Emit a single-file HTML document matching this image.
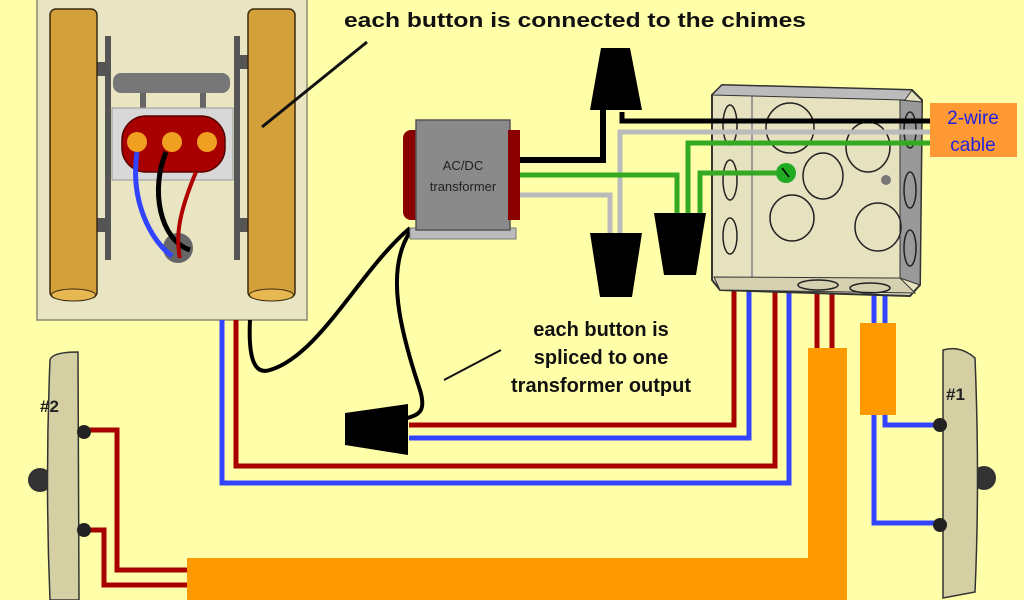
<!DOCTYPE html>
<html><head><meta charset="utf-8"><style>
html,body{margin:0;padding:0;background:#ffffaa;}
svg{display:block}
text{font-family:"Liberation Sans",Arial,sans-serif;}
</style></head><body>
<svg width="1024" height="600" viewBox="0 0 1024 600" xmlns="http://www.w3.org/2000/svg">
<rect width="1024" height="600" fill="#ffffaa"/>

<!-- chime box -->
<rect x="37" y="-2" width="270" height="322" fill="#e9e5c3" stroke="#8a8a70" stroke-width="1.5"/>
<rect x="105" y="36" width="6" height="224" fill="#555"/>
<rect x="234" y="36" width="6" height="224" fill="#555"/>
<rect x="97" y="62" width="12" height="14" fill="#555"/>
<rect x="97" y="218" width="12" height="14" fill="#555"/>
<rect x="236" y="55" width="12" height="14" fill="#555"/>
<rect x="236" y="218" width="12" height="14" fill="#555"/>
<rect x="113" y="73" width="117" height="20" rx="8" fill="#777"/>
<rect x="140" y="93" width="6" height="15" fill="#666"/><rect x="200" y="93" width="6" height="15" fill="#666"/>
<rect x="112" y="108" width="121" height="72" fill="#d8d8d8" stroke="#999"/>
<rect x="122" y="116" width="103" height="56" rx="24" fill="#a80000" stroke="#500" stroke-width="1.5"/>
<circle cx="137" cy="142" r="10" fill="#f0a020"/><circle cx="172" cy="142" r="10" fill="#f0a020"/><circle cx="207" cy="142" r="10" fill="#f0a020"/>
<circle cx="178" cy="248" r="15" fill="#666"/>
<path d="M137 152 C130 200 150 240 172 256" stroke="#3344ff" stroke-width="5" fill="none"/>
<path d="M166 152 C150 190 160 240 190 250" stroke="#000" stroke-width="5" fill="none"/>
<path d="M196 172 C180 210 175 235 180 258" stroke="#b00000" stroke-width="4" fill="none"/>
<!-- tubes -->
<rect x="50" y="9" width="47" height="289" rx="6" fill="#d4a03a" stroke="#3a2a10" stroke-width="1.5"/>
<ellipse cx="73.5" cy="295" rx="22" ry="6" fill="#e8b850" stroke="#3a2a10"/>
<rect x="248" y="9" width="47" height="289" rx="6" fill="#d4a03a" stroke="#3a2a10" stroke-width="1.5"/>
<ellipse cx="271.5" cy="295" rx="22" ry="6" fill="#e8b850" stroke="#3a2a10"/>

<!-- top text + arrow -->
<text x="344" y="27" font-size="20" font-weight="bold" fill="#111" textLength="462" lengthAdjust="spacingAndGlyphs">each button is connected to the chimes</text>
<line x1="367" y1="42" x2="262" y2="127" stroke="#111" stroke-width="3"/>

<!-- middle text -->
<g font-size="20" font-weight="bold" fill="#111" text-anchor="middle">
<text x="601" y="336">each button is</text>
<text x="601" y="364">spliced to one</text>
<text x="601" y="392">transformer output</text>
</g>
<line x1="501" y1="350" x2="444" y2="380" stroke="#111" stroke-width="2"/>

<!-- wires to chime -->
<path d="M222 320 V483 H789 V267 H885 V323" stroke="#3344ff" stroke-width="5" fill="none"/>
<path d="M236 320 V466 H775 V257 H832 V350" stroke="#a80000" stroke-width="5" fill="none"/>
<path d="M409 425 H734 V227 H817 V350" stroke="#a80000" stroke-width="5" fill="none"/>
<path d="M409 438 H749 V243 H874 V323" stroke="#3344ff" stroke-width="5" fill="none"/>
<path d="M250 320 C248 360 255 375 270 370 C320 355 360 270 410 228" stroke="#000" stroke-width="4" fill="none"/>
<path d="M410 232 C385 270 400 330 420 390 C426 410 420 415 407 418" stroke="#000" stroke-width="4" fill="none"/>
<polygon points="345,413 408,404 408,455 345,445" fill="#000"/>

<!-- junction box -->
<polygon points="712,95 722,85 912,90 922,100 920,285 910,296 720,290 712,280" fill="#e6e2c0" stroke="#333" stroke-width="2"/>
<polygon points="900,100 922,102 920,285 900,278" fill="#999" stroke="#333"/>
<line x1="752" y1="95" x2="752" y2="282" stroke="#999" stroke-width="2"/>
<polygon points="714,277 900,278 915,293 720,290" fill="#d4d0b0" stroke="#333"/>
<polygon points="712,95 722,85 912,90 905,100 752,96" fill="#bbb" stroke="#333"/>
<g fill="none" stroke="#222" stroke-width="1.5">
<ellipse cx="790" cy="128" rx="24" ry="25"/><ellipse cx="868" cy="147" rx="22" ry="25"/>
<ellipse cx="823" cy="176" rx="20" ry="23"/><ellipse cx="792" cy="218" rx="22" ry="23"/>
<ellipse cx="878" cy="227" rx="23" ry="24"/>
<ellipse cx="730" cy="125" rx="7" ry="20"/><ellipse cx="730" cy="180" rx="7" ry="20"/><ellipse cx="730" cy="236" rx="7" ry="18"/>
<ellipse cx="910" cy="130" rx="6" ry="18"/><ellipse cx="910" cy="190" rx="6" ry="18"/><ellipse cx="910" cy="248" rx="6" ry="18"/>
<ellipse cx="818" cy="285" rx="20" ry="5"/><ellipse cx="870" cy="288" rx="20" ry="5"/>
</g>
<circle cx="886" cy="180" r="5" fill="#777"/>

<!-- transformer -->
<rect x="403" y="130" width="20" height="90" rx="8" fill="#8a0000"/>
<rect x="410" y="228" width="106" height="11" fill="#bbb" stroke="#777"/>
<rect x="416" y="120" width="94" height="110" fill="#8a8a8a" stroke="#555" stroke-width="1.5"/>
<rect x="508" y="130" width="12" height="90" fill="#8a0000"/>
<text x="463" y="170" font-size="13" fill="#222" text-anchor="middle">AC/DC</text>
<text x="463" y="191" font-size="13" fill="#222" text-anchor="middle">transformer</text>

<!-- wires top -->
<path d="M520 160 H603 V110" stroke="#000" stroke-width="6" fill="none"/>
<path d="M622 112 V121 H930" stroke="#000" stroke-width="5" fill="none"/>
<path d="M620 235 V132 H930" stroke="#bbb" stroke-width="5" fill="none"/>
<path d="M520 195 H610 V235" stroke="#bbb" stroke-width="5" fill="none"/>
<path d="M520 175 H677 V215" stroke="#33aa22" stroke-width="5" fill="none"/>
<path d="M688 215 V143 H930" stroke="#33aa22" stroke-width="5" fill="none"/>
<path d="M700 215 V173 H785" stroke="#33aa22" stroke-width="5" fill="none"/>
<circle cx="786" cy="173" r="10" fill="#22aa22"/>
<line x1="782" y1="168" x2="789" y2="177" stroke="#000" stroke-width="1.5"/>
<!-- wire nuts -->
<polygon points="601,48 630,48 642,110 590,110" fill="#000"/>
<polygon points="590,233 642,233 632,297 600,297" fill="#000"/>
<polygon points="654,213 706,213 696,275 664,275" fill="#000"/>

<!-- 2-wire cable label -->
<rect x="930" y="103" width="87" height="54" fill="#ff9933"/>
<text x="973" y="124" font-size="19" fill="#2222dd" text-anchor="middle">2-wire</text>
<text x="973" y="151" font-size="19" fill="#2222dd" text-anchor="middle">cable</text>

<!-- orange cables -->
<rect x="808" y="348" width="39" height="252" fill="#ff9900"/>
<rect x="187" y="558" width="660" height="42" fill="#ff9900"/>
<rect x="860" y="323" width="36" height="92" fill="#ff9900"/>

<!-- button #2 wiring -->
<path d="M85 430 H117 V570 H187" stroke="#a80000" stroke-width="5" fill="none"/>
<path d="M85 530 H104 V585 H187" stroke="#a80000" stroke-width="5" fill="none"/>
<circle cx="40" cy="480" r="12" fill="#333"/>
<path d="M50 360 Q52 352 78 352 L79 600 L50 600 Q45 480 50 360Z" fill="#d4d0a4" stroke="#333" stroke-width="1.5"/>
<circle cx="84" cy="432" r="7" fill="#222"/><circle cx="84" cy="530" r="7" fill="#222"/>
<text x="40" y="412" font-size="17" font-weight="bold" fill="#222">#2</text>

<!-- button #1 wiring -->
<path d="M885 415 V425 H942" stroke="#3344ff" stroke-width="5" fill="none"/>
<path d="M874 415 V523 H942" stroke="#3344ff" stroke-width="5" fill="none"/>
<circle cx="984" cy="478" r="12" fill="#333"/>
<path d="M943 350 Q960 345 975 358 Q980 480 975 592 L943 598 Z" fill="#d4d0a4" stroke="#333" stroke-width="1.5"/>
<circle cx="940" cy="425" r="7" fill="#222"/><circle cx="940" cy="525" r="7" fill="#222"/>
<text x="946" y="400" font-size="17" font-weight="bold" fill="#222">#1</text>
</svg>
</body></html>
